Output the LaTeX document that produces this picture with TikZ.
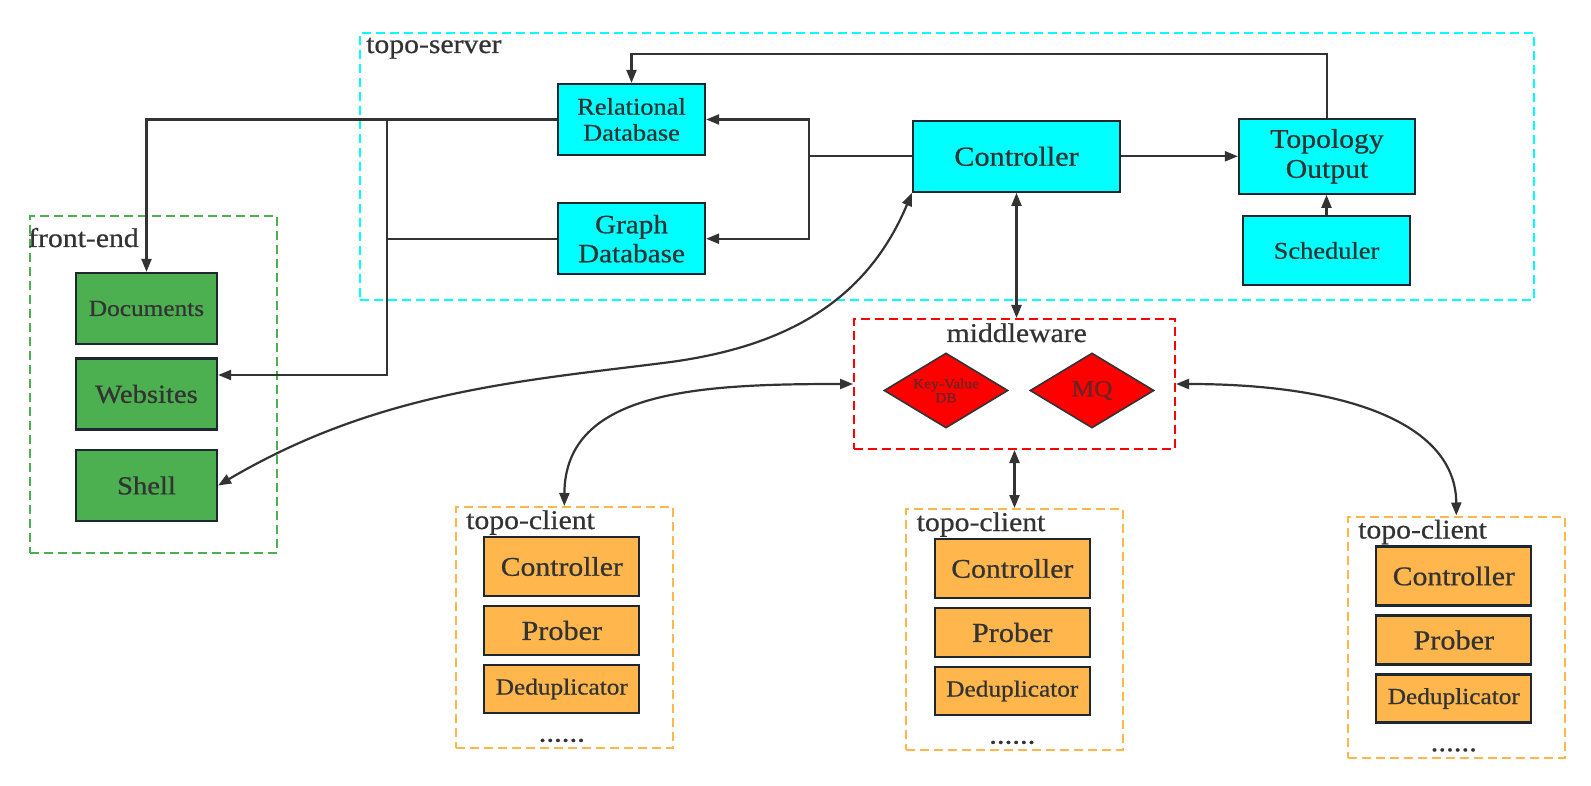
\documentclass[tikz,border=0pt]{standalone}
\usepackage{fontspec}
\setmainfont{Liberation Serif}[FakeStretch=1.1,FakeBold=0.7]
\usetikzlibrary{arrows.meta,shapes.geometric,calc}
\definecolor{txt}{HTML}{333333}
\definecolor{edgec}{HTML}{333333}
\definecolor{bord}{HTML}{1E2630}
\definecolor{cyanc}{HTML}{00FFFF}
\definecolor{greenc}{HTML}{4CAF50}
\definecolor{orangec}{HTML}{FFB74D}
\definecolor{redc}{HTML}{FF0000}
\definecolor{redtxt}{HTML}{6B2424}
\newcommand{\fsz}[2]{\fontsize{#1}{#2}\selectfont}
\tikzset{
  box/.style={draw=bord, line width=2.2pt, text=txt, align=center, inner sep=2pt, anchor=center},
  srvbox/.style={box, fill=cyanc},
  febox/.style={box, fill=greenc, minimum width=141pt, minimum height=71pt},
  clbox/.style={box, fill=orangec, minimum width=155pt},
  grp/.style={draw, dash pattern=on 9pt off 5pt, line width=2pt, inner sep=0pt},
  lbl/.style={text=txt, anchor=base west, inner sep=0pt, font=\fsz{27}{30}},
  dia/.style={diamond, aspect=1.65, draw=edgec, line width=1.6pt, fill=redc, text=redtxt, inner sep=0pt, minimum width=124pt, minimum height=75pt, align=center},
  conn/.style={draw=edgec, line width=2.2pt},
  arr/.style={conn, -{Triangle[length=13pt,width=10pt]}},
  darr/.style={conn, {Triangle[length=13pt,width=10pt]}-{Triangle[length=13pt,width=10pt]}},
}
\begin{document}
\begin{tikzpicture}[x=1pt,y=-1pt]
\fill[white] (0,0) rectangle (1591,786);
\useasboundingbox (0,0) rectangle (1591,786);

% groups
\node[grp, draw=cyanc, minimum width=1174pt, minimum height=267pt] (srv) at (947,167) {};
\node[grp, draw=greenc, minimum width=247pt, minimum height=337pt] (fe) at (153.5,384.5) {};
\node[grp, draw=redc, minimum width=321pt, minimum height=130pt] (mw) at (1014.5,384) {};

\node[lbl] (lsrv) at (366,53) {topo-server};
\node[lbl] (lfe) at (28,247) {front-end};
\node[lbl, anchor=base] (lmw) at (1016.7,342) {middleware};

% server nodes
\node[srvbox, minimum width=147pt, minimum height=71pt, font=\fsz{24}{26}] (rel) at (631.5,119.5) {Relational\\Database};
\node[srvbox, minimum width=147pt, minimum height=71pt, font=\fsz{26.5}{29}] (gdb) at (631.5,238.7) {Graph\\Database};
\node[srvbox, minimum width=207pt, minimum height=71pt, font=\fsz{27.5}{30}] (ctl) at (1016.5,156.3) {Controller};
\node[srvbox, minimum width=176pt, minimum height=75pt, font=\fsz{27}{30}] (topo) at (1327,156.3) {Topology\\Output};
\node[srvbox, minimum width=167pt, minimum height=69pt, font=\fsz{24}{26}] (sch) at (1326.5,250.5) {Scheduler};

% front-end nodes
\node[febox, font=\fsz{23}{25}] (doc) at (146.5,308.5) {Documents};
\node[febox, font=\fsz{26}{28}] (web) at (146.5,394) {Websites};
\node[febox, font=\fsz{26}{28}] (shl) at (146.5,485.5) {Shell};

% middleware nodes
\node[dia, font=\fsz{14}{14}] (kv) at (946,390.5) {Key-Value\\DB};
\node[dia, font=\fsz{23}{25}] (mq) at (1092,390.5) {MQ};

% clients
\foreach \i/\dx/\dy in {1/0/0, 2/450.5/2, 3/892/9.5}{
  \begin{scope}[shift={(\dx,\dy)}]
    \node[grp, draw=orangec, minimum width=217pt, minimum height=241pt] (cl\i) at (564.3,627.5) {};
    \node[lbl] (lcl\i) at (466,529) {topo-client};
    \node[clbox, minimum height=59pt, font=\fsz{27}{29}] (cc\i) at (561.8,566.5) {Controller};
    \node[clbox, minimum height=49pt, font=\fsz{27.5}{29}] (cp\i) at (561.8,630.5) {Prober};
    \node[clbox, minimum height=48pt, font=\fsz{23}{25}] (cd\i) at (561.8,689) {Deduplicator};
    \node[text=txt, anchor=base, inner sep=0pt, font=\fsz{28}{30}] (cx\i) at (561.8,741.7) {......};
  \end{scope}
}

% connectors in server
\coordinate (jr) at (809,156.3);
\draw[conn] (ctl.west) -- (jr);
\draw[arr] (jr) |- (rel.east);
\draw[arr] (jr) |- (gdb.east);
\draw[arr] (ctl.east) -- (topo.west);
\draw[arr] (sch.north) -- (sch.north |- topo.south);
\coordinate (tp) at (1327,54);
\draw[arr] (topo.north) -- (tp) -| (rel.north);

% to front-end
\coordinate (jl) at (387,119.5);
\coordinate (jw) at (387,375);
\draw[arr] (rel.west) -| (doc.north);
\draw[conn] (gdb.west) -- (gdb.west -| jl);
\draw[arr] (jl) -- (jw) -- (jw -| web.east);
\draw[darr] (shl.east) .. controls (376.8,391.9) and (520,381) .. (665.5,362.7)
            .. controls (780,348) and (865,305) .. (ctl.south west);

% middleware links
\draw[darr] (ctl.south) -- (ctl.south |- mw.north);
\draw[darr] (mw.south) -- (mw.south |- cl2.north);
\draw[darr] (mw.west) .. controls (700,384) and (565,390) .. (cl1.north);
\draw[darr] (mw.east) .. controls (1350,384) and (1456,425) .. (cl3.north);
\end{tikzpicture}
\end{document}
